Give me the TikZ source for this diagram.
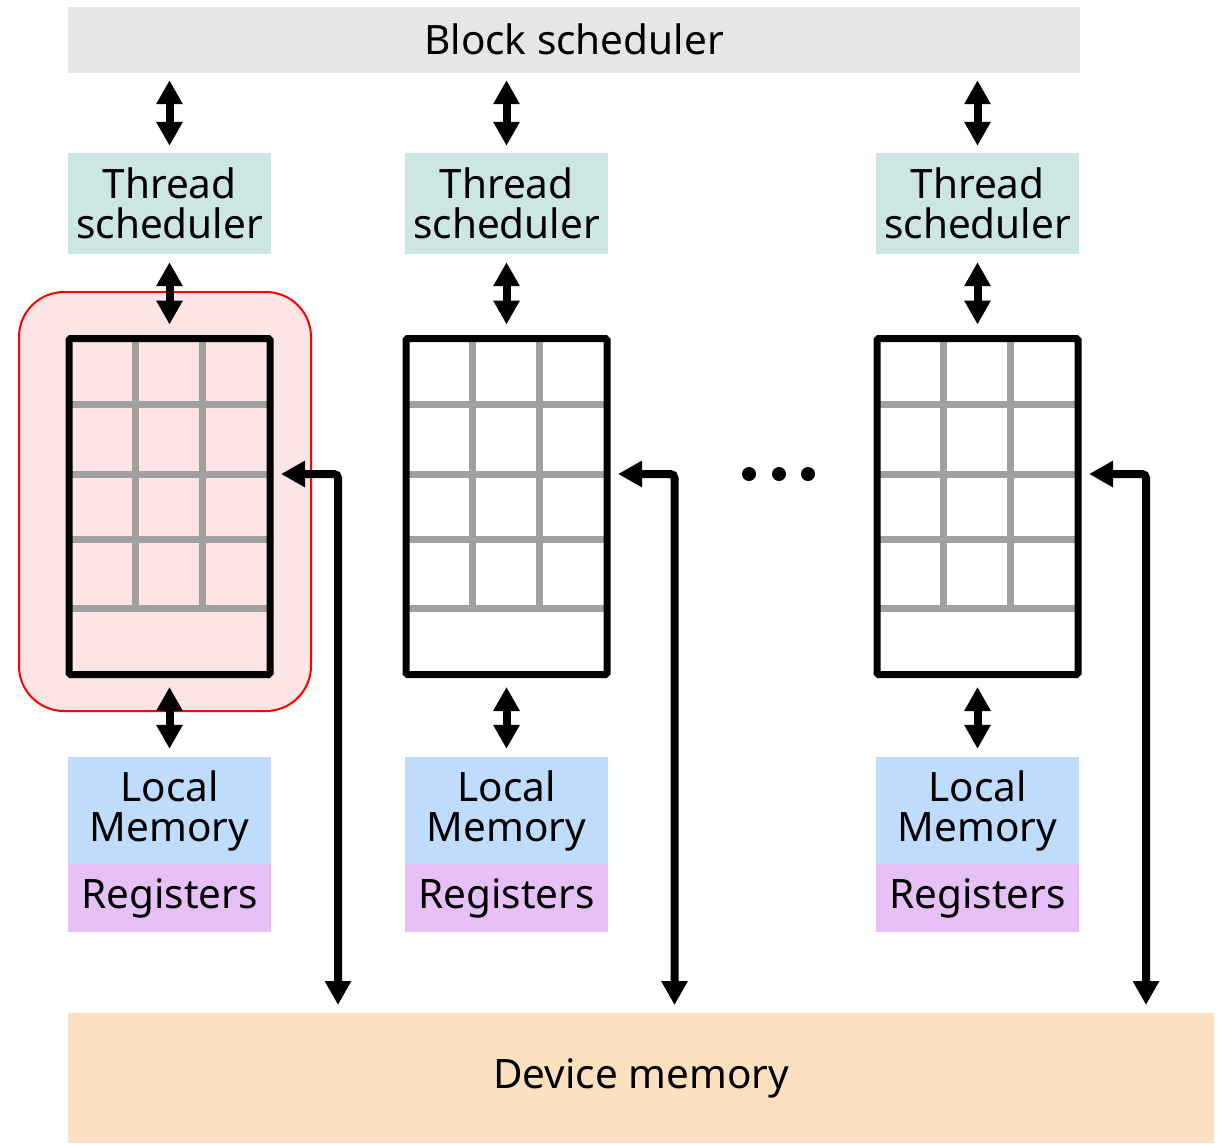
\documentclass[tikz,border=0pt]{standalone}
\usepackage{fontspec}
\setmainfont{Noto Sans}
\usetikzlibrary{arrows.meta}
\definecolor{blkgray}{HTML}{E6E6E6}
\definecolor{tsteal}{HTML}{CCE6E4}
\definecolor{lmblue}{HTML}{BFDCFD}
\definecolor{regpurple}{HTML}{E8C0F8}
\definecolor{devorange}{HTML}{FDE0C0}
\definecolor{smpink}{HTML}{FDE5E5}
\definecolor{gridgray}{HTML}{A0A0A0}
\begin{document}
\begin{tikzpicture}[x=1pt,y=-1pt,
  box/.style={inner sep=0pt,minimum width=203pt,align=center,font=\fontsize{40.5}{40}\selectfont},
  smgrid/.style={draw=black,line width=7pt,rounded corners=1.5pt,minimum width=201pt,minimum height=336pt,inner sep=0pt},
  gline/.style={draw=gridgray,line width=7pt},
  arr/.style={line width=8pt,{Triangle[width=25pt,length=24pt]}-{Triangle[width=25pt,length=24pt]}},
  longarr/.style={arr,rounded corners=4pt}]
\useasboundingbox (0,0) rectangle (1222,1143);
% sm 1 highlight
\draw[red,line width=2pt,fill=smpink,rounded corners=45pt] (19,292) rectangle (311,711);
\node[box,fill=blkgray,minimum width=1012pt,minimum height=66pt] (blk) at (574,39.5) {Block scheduler};
\node[box,fill=tsteal,minimum height=101pt] (ts1) at (169.5,203.5) {Thread\\scheduler};
\node[box,fill=tsteal,minimum height=101pt] (ts2) at (506.5,203.5) {Thread\\scheduler};
\node[box,fill=tsteal,minimum height=101pt] (ts3) at (977.5,203.5) {Thread\\scheduler};
% grid lines
\draw[gline] (135.5,342) -- (135.5,608);
\draw[gline] (202.5,342) -- (202.5,608);
\draw[gline] (72,404) -- (267,404);
\draw[gline] (72,474) -- (267,474);
\draw[gline] (72,539) -- (267,539);
\draw[gline] (72,608) -- (267,608);
\draw[gline] (472.5,342) -- (472.5,608);
\draw[gline] (539.5,342) -- (539.5,608);
\draw[gline] (409,404) -- (604,404);
\draw[gline] (409,474) -- (604,474);
\draw[gline] (409,539) -- (604,539);
\draw[gline] (409,608) -- (604,608);
\draw[gline] (943.5,342) -- (943.5,608);
\draw[gline] (1010.5,342) -- (1010.5,608);
\draw[gline] (880,404) -- (1075,404);
\draw[gline] (880,474) -- (1075,474);
\draw[gline] (880,539) -- (1075,539);
\draw[gline] (880,608) -- (1075,608);
\node[smgrid] (sm1) at (169.5,506.5) {};
\node[smgrid] (sm2) at (506.5,506.5) {};
\node[smgrid] (sm3) at (977.5,506.5) {};
\fill (749,474) circle (7);
\fill (779,474) circle (7);
\fill (808,474) circle (7);
\node[box,fill=lmblue,minimum height=107pt] (lm1) at (169.5,810.5) {Local\\Memory};
\node[box,fill=lmblue,minimum height=107pt] (lm2) at (506.5,810.5) {Local\\Memory};
\node[box,fill=lmblue,minimum height=107pt] (lm3) at (977.5,810.5) {Local\\Memory};
\node[box,fill=regpurple,minimum height=68pt,anchor=north] (reg1) at (lm1.south) {Registers};
\node[box,fill=regpurple,minimum height=68pt,anchor=north] (reg2) at (lm2.south) {Registers};
\node[box,fill=regpurple,minimum height=68pt,anchor=north] (reg3) at (lm3.south) {Registers};
\node[box,fill=devorange,minimum width=1146pt,minimum height=130pt] (dev) at (641,1078) {Device memory};
% arrows
\draw[arr,shorten <=7.5pt,shorten >=7pt] (blk.south -| ts1) -- (ts1);
\draw[arr,shorten <=7.5pt,shorten >=7pt] (blk.south -| ts2) -- (ts2);
\draw[arr,shorten <=7.5pt,shorten >=7pt] (blk.south -| ts3) -- (ts3);
\draw[arr,shorten <=8pt,shorten >=10.5pt] (ts1) -- (sm1);
\draw[arr,shorten <=8pt,shorten >=10.5pt] (ts2) -- (sm2);
\draw[arr,shorten <=8pt,shorten >=10.5pt] (ts3) -- (sm3);
\draw[arr,shorten <=9pt,shorten >=8pt] (sm1) -- (lm1);
\draw[arr,shorten <=9pt,shorten >=8pt] (sm2) -- (lm2);
\draw[arr,shorten <=9pt,shorten >=8pt] (sm3) -- (lm3);
\coordinate (d1) at (338,1005);
\coordinate (d2) at (674.5,1005);
\coordinate (d3) at (1146,1005);
\coordinate (g1) at (281,474);
\coordinate (g2) at (618,474);
\coordinate (g3) at (1089,474);
\draw[longarr] (d1) |- (g1);
\draw[longarr] (d2) |- (g2);
\draw[longarr] (d3) |- (g3);
\end{tikzpicture}
\end{document}
